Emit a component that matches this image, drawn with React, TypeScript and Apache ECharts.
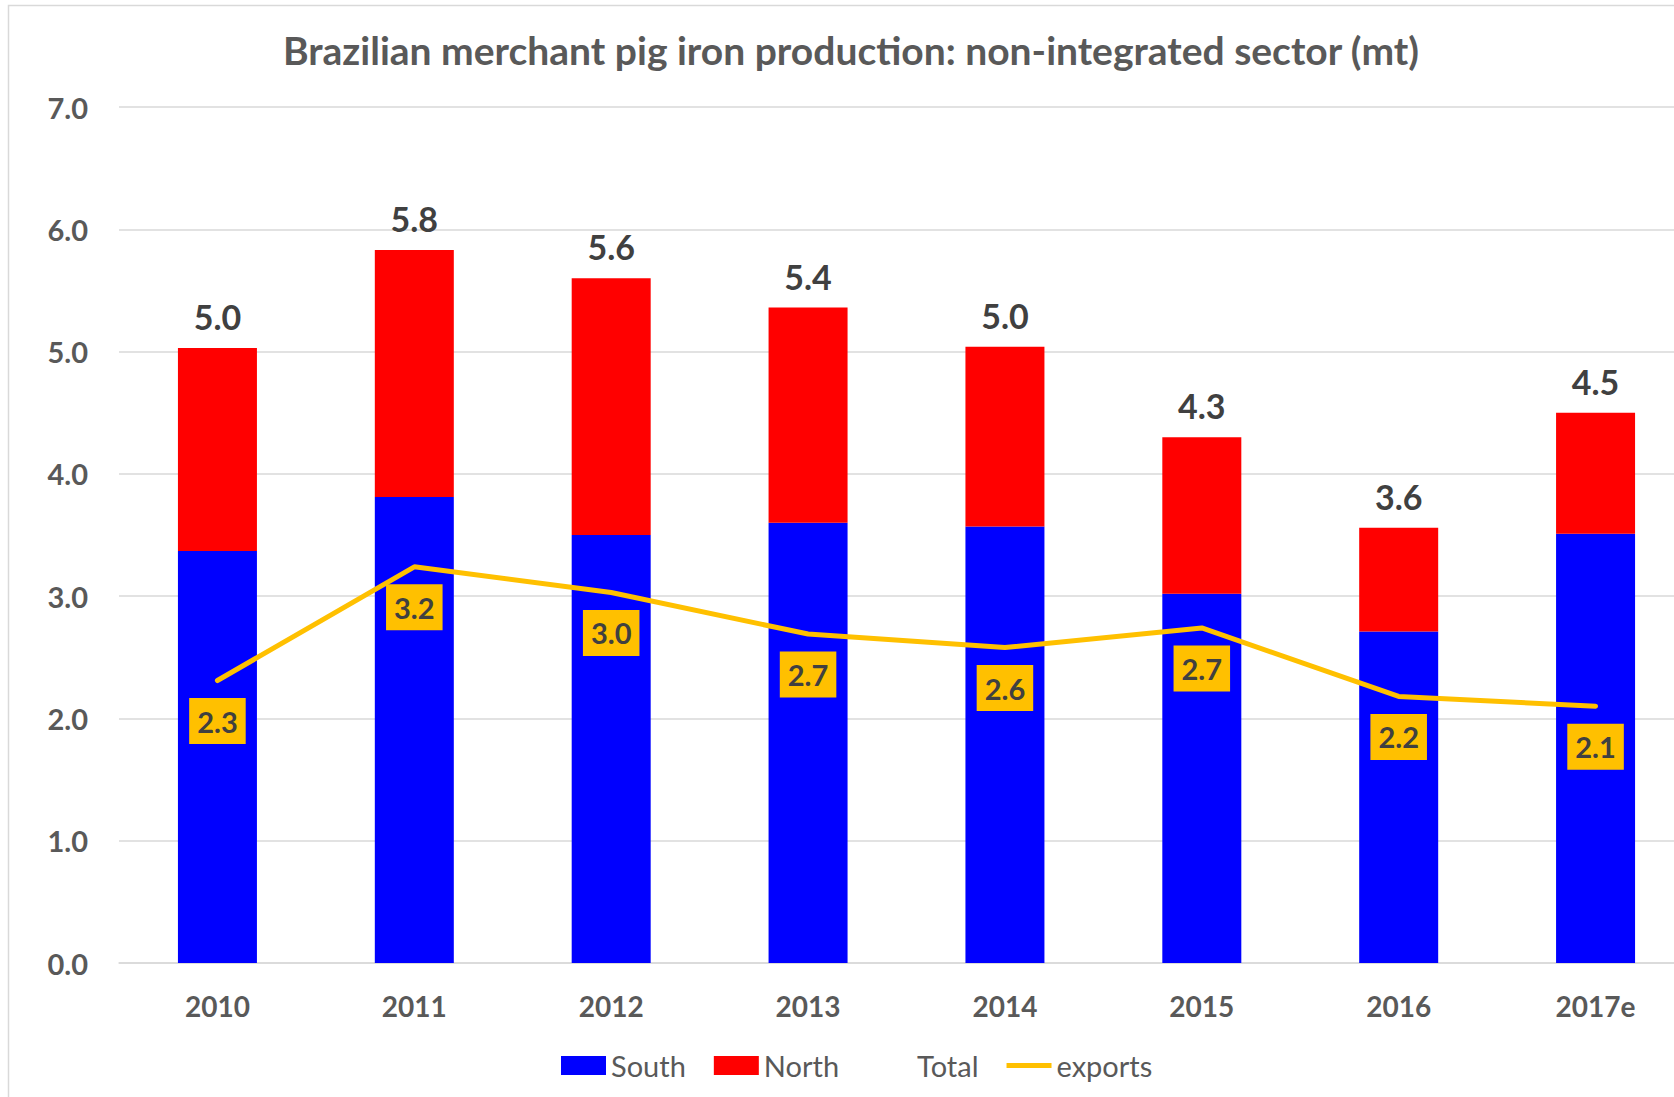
import React, { useEffect, useRef } from "react";
import * as echarts from "echarts";

const categories = ["2010", "2011", "2012", "2013", "2014", "2015", "2016", "2017e"];
const south = [3.37, 3.81, 3.5, 3.6, 3.57, 3.02, 2.71, 3.51];
const north = [1.66, 2.02, 2.1, 1.76, 1.47, 1.28, 0.85, 0.99];
const total = [5.03, 5.83, 5.6, 5.36, 5.04, 4.3, 3.56, 4.5];
const exportsData = [2.31, 3.24, 3.03, 2.69, 2.58, 2.74, 2.18, 2.1];
const yTicks = [0, 1, 2, 3, 4, 5, 6, 7];

const FONT = "Lato";

export default function App() {
  const ref = useRef<HTMLDivElement>(null);
  useEffect(() => {
    if (!ref.current) return;
    const chart = echarts.init(ref.current, null, { renderer: "svg" });
    chart.setOption({
      animation: false,
      backgroundColor: "#ffffff",
      textStyle: { fontFamily: FONT },
      graphic: [
        {
          type: "rect",
          z: -10,
          shape: { x: 8.5, y: 5.5, width: 1700, height: 1200 },
          style: { fill: "none", stroke: "#D9D9D9", lineWidth: 1.5 },
        },
      ],
      title: {
        text: "Brazilian merchant pig iron production: non-integrated sector (mt)",
        left: 846,
        textAlign: "center",
        top: 25,
        textStyle: { fontFamily: FONT, fontSize: 39, fontWeight: "bold", color: "#595959" },
      },
      legend: {
        left: 556,
        top: 1046,
        itemWidth: 45,
        itemHeight: 19,
        itemGap: 28,
        textStyle: { fontFamily: FONT, fontSize: 29, color: "#595959" },
        data: [
          { name: "South", icon: "rect" },
          { name: "North", icon: "rect" },
          { name: "Total", icon: "rect", itemStyle: { color: "rgba(0,0,0,0)", opacity: 0 } },
          { name: "exports", icon: "path://M0,0 L45,0 L45,5 L0,5 Z" },
        ],
      },
      grid: {
        left: 119,
        top: 107,
        width: 1575,
        height: 856,
        containLabel: false,
        outerBoundsMode: "none",
      },
      xAxis: {
        type: "category",
        data: categories,
        boundaryGap: true,
        axisTick: { show: false },
        axisLine: { lineStyle: { color: "#D9D9D9", width: 1.5 } },
        axisLabel: {
          margin: 29,
          fontFamily: FONT,
          fontSize: 28,
          fontWeight: "bold",
          color: "#595959",
        },
      },
      yAxis: {
        type: "value",
        min: yTicks[0],
        max: yTicks[yTicks.length - 1],
        interval: 1,
        axisLine: { show: false },
        axisTick: { show: false },
        splitLine: { lineStyle: { color: "#D9D9D9", width: 1.5 } },
        axisLabel: {
          margin: 31,
          fontFamily: FONT,
          fontSize: 29,
          fontWeight: "bold",
          color: "#595959",
          formatter: (v: number) => v.toFixed(1),
        },
      },
      series: [
        {
          name: "South",
          type: "bar",
          stack: "prod",
          barWidth: 79,
          data: south,
          itemStyle: { color: "#0000FF" },
        },
        {
          name: "North",
          type: "bar",
          stack: "prod",
          barWidth: 79,
          data: north,
          itemStyle: { color: "#FF0000" },
        },
        {
          name: "Total",
          type: "line",
          data: total,
          symbol: "circle",
          symbolSize: 1,
          itemStyle: { color: "rgba(0,0,0,0)" },
          lineStyle: { width: 0, opacity: 0 },
          z: 5,
          label: {
            show: true,
            position: "top",
            distance: 14,
            fontFamily: FONT,
            fontSize: 34,
            fontWeight: "bold",
            color: "#404040",
            formatter: (p: any) => Number(p.value).toFixed(1),
          },
        },
        {
          name: "exports",
          type: "line",
          data: exportsData,
          symbol: "circle",
          symbolSize: 1,
          itemStyle: { color: "#FFC000" },
          lineStyle: { color: "#FFC000", width: 5, cap: "round" },
          z: 6,
          label: {
            show: true,
            position: "bottom",
            distance: 17,
            fontFamily: FONT,
            fontSize: 29,
            fontWeight: "bold",
            color: "#404040",
            backgroundColor: "#FFC000",
            padding: [9, 8, 9, 8],
            lineHeight: 28,
            formatter: (p: any) => Number(p.value).toFixed(1),
          },
        },
      ],
    });
    return () => chart.dispose();
  }, []);
  return (
    <div
      ref={ref}
      style={{ position: "fixed", left: 0, top: 0, width: 1674, height: 1097 }}
    />
  );
}
